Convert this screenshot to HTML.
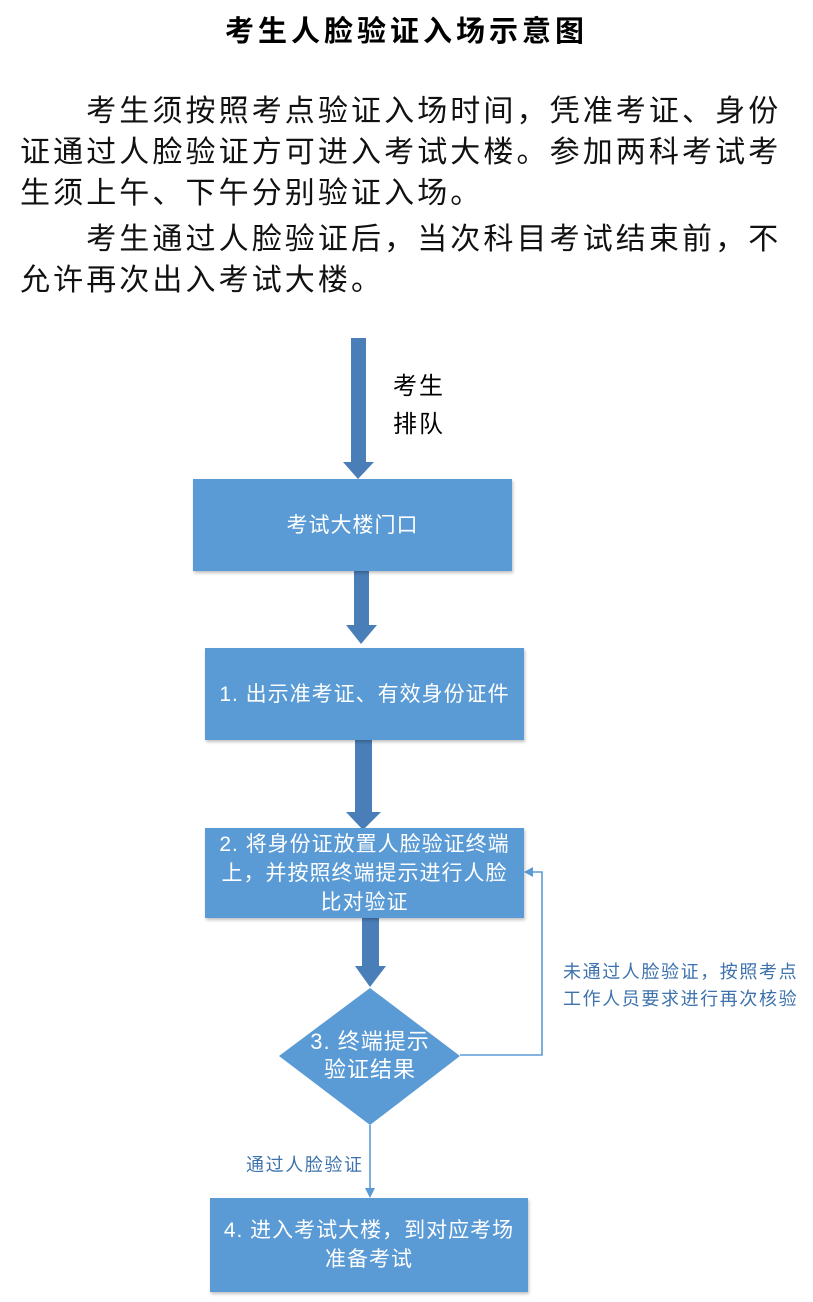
<!DOCTYPE html>
<html><head><meta charset="utf-8"><style>
body{margin:0;width:813px;height:1302px;background:#fff;position:relative;overflow:hidden;font-family:"Liberation Sans","Noto Sans CJK SC",sans-serif}
.t{position:absolute;white-space:nowrap}
.box{position:absolute;background:#5b9bd5;color:#fff;display:flex;align-items:center;justify-content:center;text-align:center;box-shadow:1px 2px 3px rgba(0,0,0,.25);font-size:21px;letter-spacing:1px;line-height:29px}
p{margin:0}
</style></head><body>
<div class="t" style="left:0;width:813px;text-align:center;top:8px;font-size:29px;letter-spacing:4px;font-weight:bold">考生人脸验证入场示意图</div>
<div class="t" style="left:20px;top:91px;font-size:30px;letter-spacing:3.1px;line-height:41px;color:#111">
<p>&#12288;&#12288;考生须按照考点验证入场时间，凭准考证、身份</p>
<p>证通过人脸验证方可进入考试大楼。参加两科考试考</p>
<p>生须上午、下午分别验证入场。</p>
<p style="margin-top:5px">&#12288;&#12288;考生通过人脸验证后，当次科目考试结束前，不</p>
<p>允许再次出入考试大楼。</p>
</div>
<svg style="position:absolute;left:0;top:0" width="813" height="1302">
<g fill="#4a7eb8">
<rect x="351" y="338" width="15" height="126"/><polygon points="343,462 374,462 358,479"/>
<rect x="354" y="571" width="15" height="56"/><polygon points="346,625 377,625 361,644"/>
<rect x="355" y="740" width="17" height="74"/><polygon points="346,812 381,812 363,830"/>
<rect x="362" y="918" width="17" height="50"/><polygon points="355,966 386,966 370,987"/>
</g>
<polygon points="370,988 460,1056 370,1125 279,1056" fill="#5b9bd5"/>
<g stroke="#5b9bd5" stroke-width="1.6" fill="none">
<polyline points="460,1055 542,1055 542,872 530,872"/>
<line x1="370" y1="1125" x2="370" y2="1190"/>
</g>
<polygon points="524,872 533,867 533,877" fill="#5b9bd5"/>
<polygon points="370,1198 365,1188 375,1188" fill="#5b9bd5"/>
<text x="370" y="1049" fill="#fff" font-size="22" letter-spacing="1" text-anchor="middle" font-family="Liberation Sans,Noto Sans CJK SC,sans-serif">3. 终端提示</text>
<text x="370" y="1077" fill="#fff" font-size="22" letter-spacing="1" text-anchor="middle" font-family="Liberation Sans,Noto Sans CJK SC,sans-serif">验证结果</text>
</svg>
<div class="t" style="left:393px;top:368px;font-size:24px;letter-spacing:2px;line-height:38px">考生<br>排队</div>
<div class="box" style="left:193px;top:479px;width:319px;height:92px">考试大楼门口</div>
<div class="box" style="left:205px;top:648px;width:319px;height:92px">1. 出示准考证、有效身份证件</div>
<div class="box" style="left:205px;top:828px;width:319px;height:90px">2. 将身份证放置人脸验证终端<br>上，并按照终端提示进行人脸<br>比对验证</div>
<div class="box" style="left:210px;top:1198px;width:318px;height:94px">4. 进入考试大楼，到对应考场<br>准备考试</div>
<div class="t" style="left:563px;top:959px;font-size:18px;letter-spacing:1.6px;line-height:27px;color:#3d72ad">未通过人脸验证，按照考点<br>工作人员要求进行再次核验</div>
<div class="t" style="left:246px;top:1151px;font-size:18px;letter-spacing:1.6px;color:#3d72ad">通过人脸验证</div>
</body></html>
